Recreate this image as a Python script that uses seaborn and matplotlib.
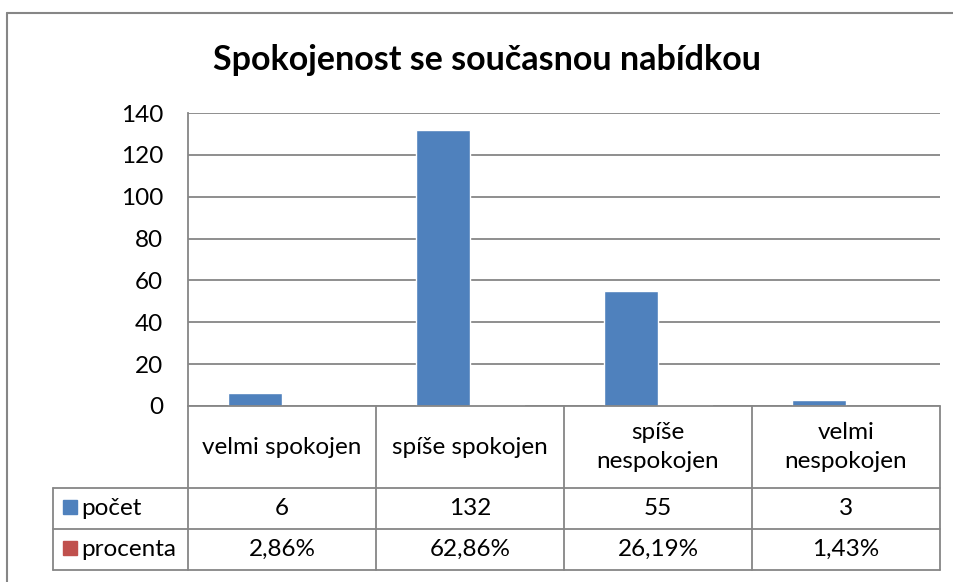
import matplotlib
matplotlib.use("Agg")
import matplotlib.pyplot as plt
import pandas as pd
import seaborn as sns
from matplotlib.lines import Line2D
from matplotlib.patches import Rectangle

categories = ["velmi spokojen", "spíše spokojen", "spíše\nnespokojen", "velmi\nnespokojen"]
pocet = [6, 132, 55, 3]
procenta = [0.0286, 0.6286, 0.2619, 0.0143]
procenta_labels = ["2,86%", "62,86%", "26,19%", "1,43%"]
series = ["počet", "procenta"]
colors = ["#4F81BD", "#C0504D"]
grid_color = "#868686"

df = pd.DataFrame({
    "kategorie": categories * 2,
    "hodnota": pocet + procenta,
    "serie": [series[0]] * 4 + [series[1]] * 4,
})

sns.set_style("white")
plt.rcParams["font.family"] = ["Lato", "DejaVu Sans"]
plt.rcParams["text.color"] = "black"
plt.rcParams["ytick.color"] = "black"

fs = 17.5

fig = plt.figure(figsize=(9.54, 5.82), dpi=100)
ax = fig.add_axes([188 / 954, 1 - 406 / 582, 752 / 954, 293 / 582])

sns.barplot(data=df, x="kategorie", y="hodnota", hue="serie", hue_order=series,
            palette=colors, width=0.57, saturation=1, ax=ax, legend=False)

ax.set_xlim(-0.5, 3.5)
ax.set_ylim(0, 140)
ax.set_yticks(range(0, 141, 20))
ax.set_yticklabels([str(v) for v in range(0, 141, 20)], fontsize=fs)
ax.set_xticks([])
ax.set_xlabel("")
ax.set_ylabel("")
ax.tick_params(axis="y", length=0, pad=18)
ax.yaxis.grid(True, color=grid_color, linewidth=1.3)
ax.set_axisbelow(True)
for side in ["top", "right", "bottom"]:
    ax.spines[side].set_visible(False)
ax.spines["left"].set_color(grid_color)
ax.spines["left"].set_linewidth(1.3)

fig.text(487 / 954, 1 - 60 / 582, "Spokojenost se současnou nabídkou",
         fontsize=24.5, fontweight="bold", ha="center", va="center")

# data table below the axis (axes coordinates)
rows_y = [0, (406 - 488) / 293, (406 - 529) / 293, (406 - 570) / 293]
left_x = (53 - 188) / 752
line_kw = dict(transform=ax.transAxes, color=grid_color, linewidth=1.3, clip_on=False)
ax.add_line(Line2D([0, 1], [rows_y[0]] * 2, **line_kw))
for y in rows_y[1:]:
    ax.add_line(Line2D([left_x, 1], [y, y], **line_kw))
for i in range(5):
    x = i / 4
    ax.add_line(Line2D([x, x], [rows_y[0], rows_y[3]], **line_kw))
ax.add_line(Line2D([left_x, left_x], [rows_y[1], rows_y[3]], **line_kw))

for i, cat in enumerate(categories):
    cx = (i + 0.5) / 4
    ax.text(cx, (rows_y[0] + rows_y[1]) / 2, cat, transform=ax.transAxes,
            ha="center", va="center", fontsize=fs, linespacing=1.5)
    ax.text(cx, (rows_y[1] + rows_y[2]) / 2, str(pocet[i]), transform=ax.transAxes,
            ha="center", va="center", fontsize=fs)
    ax.text(cx, (rows_y[2] + rows_y[3]) / 2, procenta_labels[i], transform=ax.transAxes,
            ha="center", va="center", fontsize=fs)

sq_w = 14 / 752
sq_h = 14 / 293
for r, (name, col) in enumerate(zip(series, colors)):
    cy = (rows_y[r + 1] + rows_y[r + 2]) / 2
    ax.add_patch(Rectangle((left_x + 10 / 752, cy - sq_h / 2 + 2 / 293), sq_w, sq_h,
                           transform=ax.transAxes, color=col, clip_on=False))
    ax.text(left_x + 28 / 752, cy, name, transform=ax.transAxes,
            ha="left", va="center", fontsize=fs)

# outer chart frame (top and left edges visible)
fig.add_artist(Line2D([7 / 954, 1], [1 - 13 / 582] * 2, transform=fig.transFigure,
                      color=grid_color, linewidth=1.5))
fig.add_artist(Line2D([7 / 954] * 2, [0, 1 - 13 / 582], transform=fig.transFigure,
                      color=grid_color, linewidth=1.5))

fig.savefig("out.png", dpi=100)
